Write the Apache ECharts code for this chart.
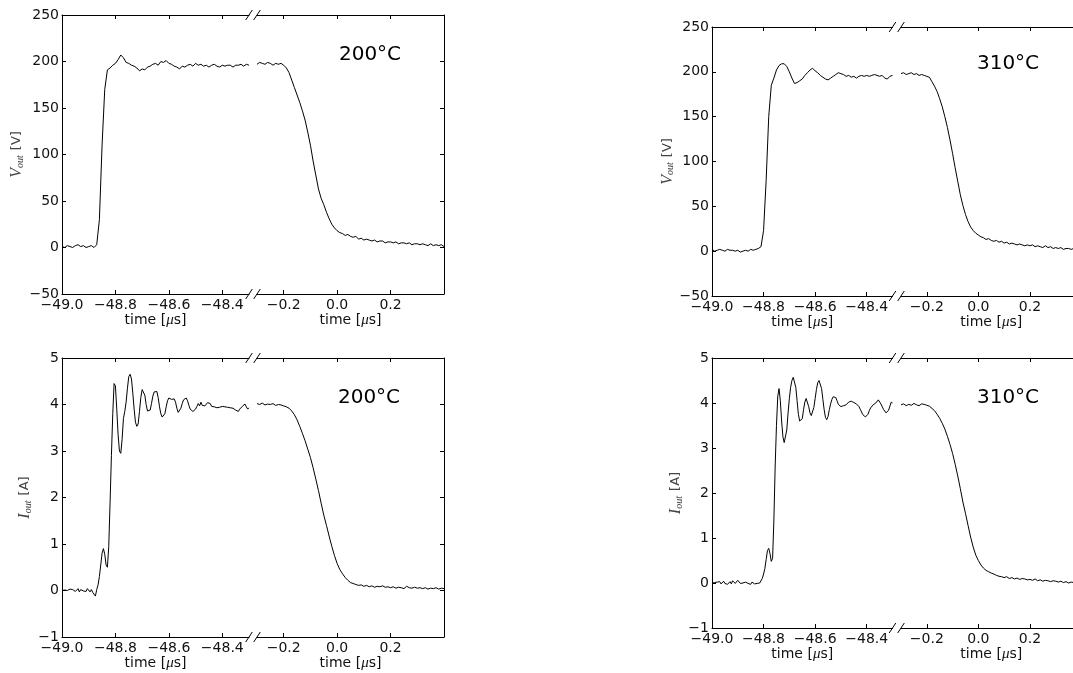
<!DOCTYPE html>
<html><head><meta charset="utf-8">
<script src="https://cdn.jsdelivr.net/npm/echarts@6/dist/echarts.min.js"></script>
<style>html,body{margin:0;padding:0;background:#fff}#c{width:1073px;height:673px}</style>
</head><body><div id="c"></div>
<script>
// ---------- DATA (time in µs) ----------
// left segments start at -49.0 µs, right segments start at -0.30 µs
const T_LEFT0 = -49.0;
const T_RIGHT0 = -0.30;
const DT_COARSE = 0.01;
const DT_FINE = 0.005;

// V_out, 200°C (V)
const vLeft200 = [
  1,0,2,1,0,2,3,1,2,0,
  1,2,0,3,30,110,170,191,193,196,
  198,202,207,204,199,198,196,195,193,190,
  192,191,194,195,197,198,196,200,199,201,
  198,197,195,194,192,195,194,196,197,195,
  198,196,197,195,196,194,196,197,195,194,
  196,195,196,196,194,196,196,197,195,197,
  196];
const vRight200 = [
  197,199,198,197,199,198,196,198,197,198,
  196,193,188,180,172,164,156,147,137,124,
  110,93,78,63,53,46,38,31,25,21,
  18,16,15,13,14,12,11,12,9,10,
  8,9,8,7,8,6,7,7,5,6,
  6,5,6,4,5,5,4,5,3,4,
  4,3,4,3,2,4,2,3,2,3,
  1];

// V_out, 310°C (V)
const vLeft310 = [
  2,0,1,2,1,0,2,1,1,0,
  1,-1,0,1,0,2,1,2,3,5,
  23,79,150,185,193,202,207,209,209,206,
  200,193,187,188,190,192,196,199,202,204,
  201,199,196,194,192,191,193,195,197,199,
  198,197,195,196,194,195,193,195,196,195,
  196,195,196,197,196,195,196,193,192,195,
  196];
const vRight310 = [
  198,199,197,198,199,197,198,196,197,196,
  195,194,189,184,178,170,161,150,138,124,
  109,93,78,63,51,41,33,27,23,20,
  18,16,15,13,14,12,11,12,10,11,
  9,10,8,9,8,7,8,7,6,7,
  6,7,5,6,5,4,6,4,5,3,
  4,3,4,2,3,3,2,3,1,2,
  2];

// I_out, 200°C (A) — left segment sampled every 0.005 µs
const iLeft200 = [
  0.00,-0.02,0.01,-0.03,0.00,-0.04,0.03,-0.01,0.02,0.05,
  -0.02,0.01,0.04,-0.03,0.02,0.06,-0.01,0.03,-0.02,0.04,
  0.01,-0.03,0.02,-0.04,0.00,-0.12,0.02,0.12,0.30,0.55,
  0.80,0.90,0.78,0.55,0.50,0.95,1.90,2.90,3.80,4.45,
  4.40,3.90,3.35,3.00,2.95,3.25,3.70,3.85,4.05,4.35,
  4.60,4.65,4.55,4.25,3.90,3.62,3.53,3.58,3.85,4.15,
  4.32,4.34,4.20,4.00,3.86,3.82,3.88,4.02,4.18,4.27,
  4.30,4.28,4.15,3.95,3.80,3.73,3.72,3.80,3.95,4.08,
  4.14,4.15,4.11,4.14,4.12,4.05,3.92,3.83,3.84,3.92,
  4.02,4.10,4.13,4.14,4.08,3.98,3.90,3.88,3.85,3.86,
  3.90,3.96,4.02,3.97,4.05,3.98,3.94,3.97,3.99,4.04,
  4.07,4.02,3.96,3.99,3.95,3.98,3.93,3.97,3.94,3.92,
  3.96,3.93,3.95,3.91,3.94,3.97,3.93,3.96,3.92,3.90,
  3.88,3.86,3.85,3.90,3.93,3.96,3.98,4.01,3.95,3.90,
  3.93];
const iRight200 = [
  4.02,4.00,4.03,3.99,4.01,4.00,4.02,3.98,4.00,3.99,
  3.97,3.95,3.92,3.86,3.78,3.67,3.53,3.38,3.22,3.04,
  2.86,2.64,2.40,2.15,1.88,1.62,1.40,1.17,0.95,0.75,
  0.58,0.45,0.36,0.28,0.22,0.17,0.15,0.13,0.11,0.12,
  0.09,0.11,0.08,0.10,0.07,0.09,0.08,0.10,0.07,0.08,
  0.06,0.08,0.05,0.07,0.06,0.04,0.09,0.06,0.05,0.07,
  0.05,0.06,0.04,0.06,0.03,0.05,0.04,0.06,0.03,0.05,
  0.04];

// I_out, 310°C (A) — left segment sampled every 0.005 µs
const iLeft310 = [
  0.00,-0.03,0.01,-0.02,0.02,-0.01,0.03,-0.02,0.00,0.04,
  -0.01,0.02,-0.03,0.01,0.03,-0.02,0.05,0.01,-0.01,0.03,
  0.06,0.02,-0.01,0.03,0.00,-0.02,0.02,0.04,-0.01,0.01,
  -0.03,0.02,0.00,-0.02,0.01,-0.01,0.03,0.00,0.04,0.10,
  0.20,0.32,0.52,0.72,0.77,0.65,0.48,0.55,1.40,2.60,
  3.50,4.15,4.32,4.05,3.60,3.25,3.12,3.15,3.40,3.78,
  4.10,4.35,4.50,4.57,4.55,4.35,4.05,3.75,3.60,3.56,
  3.65,3.85,4.02,4.10,4.06,3.92,3.78,3.72,3.75,3.90,
  4.10,4.30,4.45,4.50,4.48,4.32,4.08,3.85,3.68,3.63,
  3.70,3.85,3.98,4.08,4.14,4.16,4.12,4.05,3.97,3.93,
  3.92,3.90,3.94,3.98,3.96,4.00,4.02,4.05,4.04,4.06,
  4.01,4.03,3.98,3.95,3.92,3.86,3.80,3.74,3.70,3.69,
  3.68,3.75,3.83,3.89,3.93,3.96,3.95,4.00,4.04,4.07,
  4.03,3.98,3.92,3.86,3.82,3.78,3.77,3.84,3.93,4.02,
  4.00];
const iRight310 = [
  3.96,3.98,3.94,3.97,3.95,3.99,3.96,3.94,3.98,3.97,
  3.95,3.93,3.88,3.83,3.75,3.66,3.55,3.42,3.26,3.08,
  2.88,2.64,2.38,2.10,1.80,1.55,1.28,1.02,0.80,0.62,
  0.50,0.40,0.33,0.28,0.25,0.22,0.20,0.17,0.15,0.14,
  0.12,0.14,0.10,0.12,0.09,0.11,0.08,0.10,0.09,0.07,
  0.08,0.06,0.09,0.05,0.07,0.04,0.06,0.05,0.03,0.05,
  0.04,0.02,0.04,0.01,0.03,0.00,0.02,0.01,0.03,0.00,
  0.01];

// tick labels
const xTicksLeft = [-49.0, -48.8, -48.6, -48.4];
const xTicksRight = [-0.2, 0.0, 0.2];
const temps = ['200°C', '310°C'];

// ---------- LAYOUT ----------
const FONT = 'DejaVu Sans';
const MATH = 'Liberation Serif';
const BLACK = '#000';
const panels = [
  {vals: [vLeft200, vRight200], dtL: DT_COARSE, temp: temps[0], y: [-50, 250, 50], yname: '{v|V}{s|out} [V]',
   top: 15, h: 279, lx: 62, lw: 187, rx: 257, rw: 187, yGap: 37, xGap: 19, tx: 370, ty: 55},
  {vals: [iLeft200, iRight200], dtL: DT_FINE, temp: temps[0], y: [-1, 5, 1], yname: '{v|I}{s|out} [A]',
   top: 358, h: 279, lx: 62, lw: 187, rx: 257, rw: 187, yGap: 29, xGap: 18, tx: 369, ty: 398},
  {vals: [vLeft310, vRight310], dtL: DT_COARSE, temp: temps[1], y: [-50, 250, 50], yname: '{v|V}{s|out} [V]',
   top: 27, h: 269, lx: 712, lw: 180.5, rx: 901, rw: 180.5, yGap: 36, xGap: 18, tx: 1008, ty: 64},
  {vals: [iLeft310, iRight310], dtL: DT_FINE, temp: temps[1], y: [-1, 5, 1], yname: '{v|I}{s|out} [A]',
   top: 358, h: 270, lx: 712, lw: 180.5, rx: 901, rw: 180.5, yGap: 28, xGap: 18, tx: 1008, ty: 398}
];

function pairs(t0, dt, vals) {
  return vals.map((v, i) => [Math.round((t0 + i * dt) * 1000) / 1000, v]);
}
const minus = s => String(s).replace('-', '\u2212');

const grid = [], xAxis = [], yAxis = [], series = [], graphic = [];
const tickStyle = {color: BLACK, width: 1};
const lineAxis = {show: true, onZero: false, lineStyle: {color: BLACK, width: 1}};

panels.forEach((p, pi) => {
  [0, 1].forEach(side => {
    const g = grid.length;
    const left = side === 0 ? p.lx : p.rx;
    const width = side === 0 ? p.lw : p.rw;
    grid.push({left: left, top: p.top, width: width, height: p.h, containLabel: false, outerBoundsMode: 'none'});
    const xmin = side === 0 ? -49.0 : -0.3;
    const xmax = side === 0 ? -48.3 : 0.4;
    const ticks = side === 0 ? xTicksLeft : xTicksRight;
    const xi = xAxis.length;
    xAxis.push({
      type: 'value', gridIndex: g, min: xmin, max: xmax, position: 'bottom',
      axisLine: lineAxis,
      axisTick: {show: true, inside: true, length: 4, customValues: ticks, lineStyle: tickStyle},
      axisLabel: {show: true, customValues: ticks, margin: 4, color: '#111', fontSize: 14, fontFamily: FONT,
        formatter: v => minus(v.toFixed(1))},
      splitLine: {show: false},
      name: 'time [{m|μ}s]', nameLocation: 'middle', nameGap: p.xGap,
      nameTextStyle: {color: '#111', fontSize: 14, fontFamily: FONT,
        rich: {m: {fontFamily: MATH, fontStyle: 'italic', fontSize: 15, color: '#111'}}}
    });
    xAxis.push({
      type: 'value', gridIndex: g, min: xmin, max: xmax, position: 'top',
      axisLine: lineAxis,
      axisTick: {show: true, inside: true, length: 4, customValues: ticks, lineStyle: tickStyle},
      axisLabel: {show: false}, splitLine: {show: false}
    });
    const yi = yAxis.length;
    const yCfg = {
      type: 'value', gridIndex: g, min: p.y[0], max: p.y[1], interval: p.y[2],
      position: side === 0 ? 'left' : 'right',
      axisLine: lineAxis,
      axisTick: {show: true, inside: true, length: 4, lineStyle: tickStyle},
      splitLine: {show: false}
    };
    if (side === 0) {
      yCfg.axisLabel = {show: true, margin: 3, color: '#111', fontSize: 14, fontFamily: FONT, formatter: v => minus(v)};
      yCfg.name = p.yname;
      yCfg.nameLocation = 'middle';
      yCfg.nameRotate = 90;
      yCfg.nameGap = p.yGap;
      yCfg.nameTextStyle = {color: '#444', fontSize: 13, fontFamily: FONT,
        rich: {v: {fontFamily: MATH, fontStyle: 'italic', fontSize: 16, color: '#444'},
               s: {fontFamily: MATH, fontStyle: 'italic', fontSize: 10, color: '#444', verticalAlign: 'bottom', padding: [6, 1, 0, 0]}}};
    } else {
      yCfg.axisLabel = {show: false};
    }
    yAxis.push(yCfg);
    const t0 = side === 0 ? T_LEFT0 : T_RIGHT0;
    const dt = side === 0 ? p.dtL : DT_COARSE;
    series.push({
      type: 'line', xAxisIndex: xi, yAxisIndex: yi, data: pairs(t0, dt, p.vals[side]),
      showSymbol: false, symbol: 'none', lineStyle: {color: BLACK, width: 1}, silent: true, clip: true
    });
  });
  // broken-axis marks
  [p.top, p.top + p.h].forEach(yy => {
    [p.lx + p.lw, p.rx].forEach(xx => {
      graphic.push({type: 'line', silent: true, z: 100,
        shape: {x1: xx - 3.3, y1: yy + 5, x2: xx + 3.3, y2: yy - 5},
        style: {stroke: BLACK, lineWidth: 1}});
    });
  });
  graphic.push({type: 'text', x: p.tx, y: p.ty, z: 100, silent: true,
    style: {text: p.temp, fill: BLACK, fontSize: 20, fontFamily: FONT, align: 'center', verticalAlign: 'middle'}});
});

const chart = echarts.init(document.getElementById('c'), null, {renderer: 'canvas'});
chart.setOption({
  backgroundColor: '#fff',
  animation: false,
  grid: grid, xAxis: xAxis, yAxis: yAxis, series: series, graphic: graphic
});
</script></body></html>
